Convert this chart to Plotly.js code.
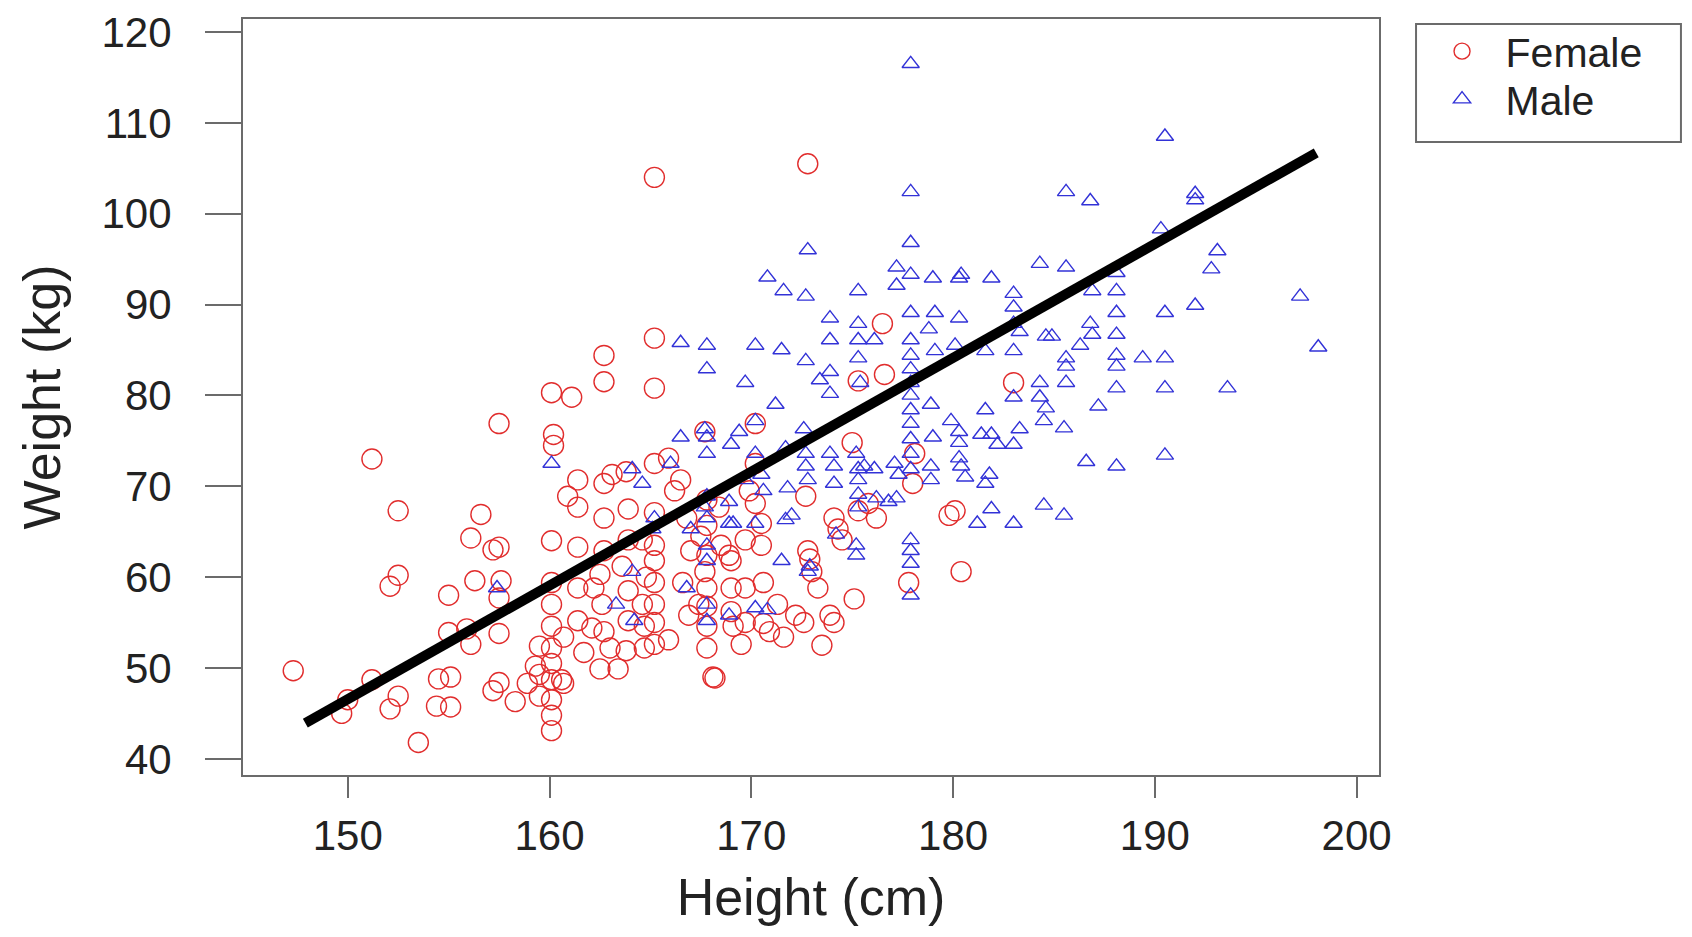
<!DOCTYPE html>
<html>
<head>
<meta charset="utf-8">
<script src="https://cdn.plot.ly/plotly-3.0.1.min.js"></script>
<style>
  html, body { margin: 0; padding: 0; background: #ffffff; }
  #chart { width: 1692px; height: 937px; }
</style>
</head>
<body>
<div id="chart"></div>
<script>
// Female: height (cm) and weight (kg)
const femaleHeight = [
  147.3, 149.7, 150.0, 151.2, 151.2, 152.1, 152.5, 152.5, 152.1, 152.5,
  153.5, 154.5, 154.4, 155.1, 155.1, 155.0, 155.0, 155.9, 156.1, 156.1,
  156.3, 156.6, 157.2, 157.5, 157.5, 157.6, 157.5, 157.5, 157.5, 157.2,
  158.3, 158.9, 159.3, 159.5, 160.1, 160.2, 160.2, 161.1, 160.1, 160.1,
  160.1, 160.1, 160.1, 160.1, 160.1, 160.1, 160.1, 160.1, 159.5, 159.5,
  160.6, 160.7, 160.7, 160.9, 161.4, 161.4, 161.4, 161.4, 161.4, 161.7,
  162.1, 162.2, 162.5, 162.7, 162.7, 162.7, 162.7, 162.7, 162.6, 162.7,
  163.0, 162.5, 163.4, 163.1, 163.8, 163.9, 163.9, 163.6, 163.9, 163.9,
  163.8, 164.6, 164.8, 164.6, 164.7, 164.7, 165.2, 165.2, 165.2, 165.2,
  165.2, 165.2, 165.2, 165.2, 165.2, 165.2, 165.2, 165.9, 165.9, 166.2,
  166.5, 166.6, 166.9, 166.8, 167.0, 167.4, 167.5, 167.7, 167.8, 167.8,
  167.7, 167.8, 167.8, 167.8, 167.8, 167.8, 168.1, 168.2, 168.4, 168.5,
  168.9, 169.0, 169.0, 169.0, 169.1, 169.5, 169.7, 169.7, 169.7, 169.9,
  170.2, 170.2, 170.2, 170.5, 170.5, 170.6, 170.6, 170.9, 171.3, 171.6,
  172.2, 172.6, 172.8, 172.7, 172.8, 172.9, 173.0, 173.3, 173.5, 173.9,
  174.1, 174.1, 174.3, 174.5, 175.0, 175.1, 175.3, 175.3, 175.8, 176.2,
  176.5, 176.6, 178.0, 177.8, 178.1, 179.8, 180.1, 180.4, 183.0
];
const femaleWeight = [
  49.7, 45.0, 46.5, 73.0, 48.7, 59.0, 60.2, 67.3, 45.5, 46.9,
  41.8, 48.8, 45.8, 45.7, 49.0, 58.0, 53.9, 54.3, 52.6, 64.3,
  59.6, 66.9, 63.0, 76.9, 63.3, 59.6, 57.7, 53.8, 48.4, 47.5,
  46.3, 48.3, 50.2, 52.4, 80.3, 75.7, 74.5, 79.8, 64.0, 59.4,
  57.0, 54.6, 52.2, 50.5, 48.7, 46.5, 44.8, 43.1, 49.3, 46.9,
  48.7, 53.4, 48.3, 68.9, 70.7, 67.7, 63.3, 58.8, 55.2, 51.7,
  54.4, 58.8, 60.3, 84.4, 81.5, 70.3, 66.5, 62.9, 57.0, 54.0,
  52.2, 49.9, 49.9, 71.3, 71.6, 67.5, 64.1, 61.2, 58.5, 55.2,
  51.9, 64.1, 60.0, 57.0, 54.6, 52.2, 104.0, 86.3, 80.8, 72.5,
  67.1, 63.5, 61.8, 59.4, 57.0, 55.0, 52.6, 73.1, 53.1, 69.5,
  70.7, 59.4, 55.8, 66.5, 62.9, 57.0, 64.5, 60.6, 54.6, 52.2,
  76.0, 68.5, 65.7, 62.4, 58.8, 56.8, 49.0, 48.9, 67.7, 63.5,
  62.4, 61.8, 58.8, 56.2, 54.6, 52.6, 55.0, 58.8, 64.1, 69.5,
  76.9, 72.5, 68.1, 65.9, 63.5, 59.4, 54.9, 54.0, 57.0, 53.4,
  55.8, 55.0, 105.5, 68.9, 62.9, 62.0, 60.6, 58.8, 52.5, 55.8,
  55.0, 66.5, 65.3, 64.1, 74.8, 57.6, 81.6, 67.3, 68.1, 66.5,
  87.9, 82.3, 70.3, 59.4, 73.6, 66.8, 67.3, 60.6, 81.4
];

// Male: height (cm) and weight (kg)
const maleHeight = [
  177.9, 190.5, 192.0, 192.0, 185.6, 186.8, 177.9, 177.9, 172.8, 190.3,
  193.1, 192.8, 192.0, 190.5, 197.2, 198.1, 193.6, 190.5, 190.5, 190.5,
  189.4, 188.1, 188.1, 188.1, 188.1, 188.1, 188.1, 188.1, 188.1, 186.6,
  186.8, 186.9, 187.2, 186.9, 186.3, 185.6, 185.6, 185.6, 185.6, 185.5,
  185.5, 184.3, 184.6, 184.3, 184.3, 184.6, 184.5, 184.5, 184.9, 183.3,
  183.0, 183.0, 183.0, 183.0, 183.0, 183.3, 183.0, 183.0, 181.9, 181.6,
  181.6, 181.4, 181.9, 182.2, 181.8, 181.6, 181.9, 181.2, 180.3, 180.3,
  180.4, 180.1, 179.9, 180.3, 180.3, 180.3, 180.4, 180.6, 179.0, 179.1,
  178.8, 179.1, 178.9, 179.0, 178.9, 178.9, 177.9, 177.9, 177.9, 177.9,
  177.9, 177.9, 177.9, 177.9, 177.9, 177.9, 177.9, 177.9, 177.9, 177.9,
  177.9, 177.9, 177.2, 177.2, 177.1, 177.3, 176.8, 177.2, 176.1, 176.1,
  176.2, 175.6, 175.3, 175.3, 175.3, 175.3, 175.4, 175.2, 175.3, 175.3,
  175.3, 175.3, 175.2, 175.2, 173.9, 173.9, 173.9, 173.9, 173.9, 174.1,
  174.1, 174.2, 173.4, 172.7, 172.7, 172.6, 172.7, 172.7, 172.8, 172.9,
  172.8, 171.6, 170.8, 171.5, 171.2, 171.7, 171.8, 172.0, 171.7, 171.5,
  170.2, 170.2, 170.2, 170.5, 170.6, 170.2, 170.8, 170.2, 169.7, 169.4,
  169.7, 169.1, 169.0, 168.9, 168.9, 168.9, 167.8, 167.8, 167.7, 167.8,
  167.8, 167.8, 167.7, 167.8, 167.8, 167.8, 167.8, 167.8, 167.0, 166.8,
  166.5, 166.5, 166.0, 165.2, 165.1, 164.6, 164.1, 164.1, 164.2, 163.3,
  160.1, 157.4
];
const maleWeight = [
  116.5, 108.5, 102.2, 101.5, 102.4, 101.4, 102.4, 96.8, 96.0, 98.3,
  95.9, 93.9, 89.9, 89.1, 90.9, 85.3, 80.8, 84.1, 80.8, 73.4,
  84.1, 93.5, 91.5, 89.1, 86.7, 84.4, 83.2, 80.8, 72.2, 72.7,
  87.9, 86.7, 78.8, 91.5, 85.5, 94.1, 84.1, 83.2, 81.4, 76.4,
  66.8, 94.5, 86.5, 81.4, 79.8, 78.6, 77.2, 67.9, 86.5, 87.0,
  91.2, 89.7, 87.9, 84.9, 79.8, 76.3, 74.6, 65.9, 92.9, 84.9,
  78.4, 75.7, 75.7, 74.6, 71.3, 70.3, 67.5, 65.9, 92.9, 88.5,
  93.3, 85.5, 77.2, 76.0, 74.8, 73.1, 72.2, 71.0, 92.9, 89.1,
  87.3, 84.9, 79.0, 75.4, 72.2, 70.7, 93.3, 89.1, 86.1, 84.4,
  82.9, 81.4, 80.0, 78.4, 76.9, 75.2, 73.6, 71.9, 64.1, 62.9,
  61.5, 58.0, 94.1, 92.1, 72.5, 71.3, 68.3, 68.7, 86.1, 71.9,
  68.7, 72.2, 91.5, 87.9, 86.1, 84.1, 81.4, 73.6, 71.9, 70.7,
  69.1, 67.7, 63.5, 62.4, 88.5, 86.1, 82.6, 80.2, 73.6, 72.2,
  70.3, 64.7, 81.7, 90.9, 83.8, 76.3, 73.6, 72.2, 70.7, 61.2,
  60.6, 91.5, 93.0, 85.0, 79.0, 74.2, 69.8, 66.8, 66.3, 61.8,
  85.5, 77.2, 73.6, 71.3, 69.5, 65.9, 56.4, 56.6, 81.4, 76.0,
  70.7, 65.9, 74.6, 68.3, 65.9, 55.8, 85.5, 82.9, 76.3, 75.4,
  73.6, 68.9, 67.7, 66.5, 63.5, 61.8, 57.0, 55.2, 65.3, 58.8,
  85.8, 75.4, 72.5, 66.5, 65.3, 70.3, 71.9, 60.6, 55.2, 57.0,
  72.5, 58.8
];

// Fitted line (weight = intercept + slope * height)
const fitIntercept = -141.4;
const fitSlope = 1.253;
const fitHeightRange = [147.9, 198.0];

const seriesNames = ['Female', 'Male'];
const xTicks = [150, 160, 170, 180, 190, 200];
const yTicks = [40, 50, 60, 70, 80, 90, 100, 110, 120];

const fitWeights = fitHeightRange.map(h => fitIntercept + fitSlope * h);

const FONT = 'Liberation Sans, Arial, Helvetica, sans-serif';
const AXIS_GRAY = '#6b6b6b';

const traces = [
  {
    type: 'scatter', mode: 'markers', name: seriesNames[0], legend: 'legend',
    x: femaleHeight, y: femaleWeight,
    marker: { symbol: 'circle-open', size: 20, color: 'rgb(225,45,45)', line: { width: 1.4, color: 'rgb(225,45,45)' } },
    hoverinfo: 'x+y'
  },
  {
    type: 'scatter', mode: 'markers', name: seriesNames[1], legend: 'legend2',
    x: maleHeight, y: maleWeight,
    marker: { symbol: 'triangle-up-open', size: 15, color: 'rgb(50,50,215)', line: { width: 1.4, color: 'rgb(50,50,215)' } },
    hoverinfo: 'x+y'
  },
  {
    type: 'scatter', mode: 'lines', name: 'fit', showlegend: false,
    x: fitHeightRange, y: fitWeights,
    line: { color: '#000000', width: 10 },
    hoverinfo: 'skip'
  }
];

const legendCommon = {
  xanchor: 'left', yanchor: 'top',
  bgcolor: 'rgba(0,0,0,0)', borderwidth: 0,
  font: { size: 41, color: '#222222', family: FONT },
  itemwidth: 77, itemsizing: 'trace'
};

const layout = {
  width: 1692, height: 937,
  paper_bgcolor: '#ffffff', plot_bgcolor: '#ffffff',
  margin: { l: 243, r: 313, t: 19, b: 162, pad: 0 },
  font: { family: FONT, color: '#222222' },
  showlegend: true,
  xaxis: {
    range: [144.81, 201.11],
    tickmode: 'array', tickvals: xTicks, ticktext: xTicks.map(String),
    showgrid: false, zeroline: false,
    showline: true, mirror: true, linecolor: AXIS_GRAY, linewidth: 2,
    ticks: 'outside', ticklen: 21, tickwidth: 2, tickcolor: AXIS_GRAY,
    tickfont: { size: 42, color: '#222222', family: FONT },
    ticklabelstandoff: 2,
    title: { text: 'Height (cm)', font: { size: 52, color: '#222222', family: FONT }, standoff: 20 },
    automargin: false
  },
  yaxis: {
    range: [38.22, 121.43],
    tickmode: 'array', tickvals: yTicks, ticktext: yTicks.map(String),
    showgrid: false, zeroline: false,
    showline: true, mirror: true, linecolor: AXIS_GRAY, linewidth: 2,
    ticks: 'outside', ticklen: 36, tickwidth: 2, tickcolor: AXIS_GRAY,
    tickfont: { size: 42, color: '#222222', family: FONT },
    ticklabelstandoff: 25,
    title: { text: 'Weight (kg)', font: { size: 52, color: '#222222', family: FONT }, standoff: 24 },
    automargin: false
  },
  legend: Object.assign({ x: 1.0348, y: 1.0013 }, legendCommon),
  legend2: Object.assign({ x: 1.0348, y: 0.9378 }, legendCommon),
  shapes: [
    {
      type: 'rect', xref: 'paper', yref: 'paper',
      x0: 1.0326, x1: 1.2658, y0: 0.8373, y1: 0.9934,
      line: { color: AXIS_GRAY, width: 2 }, fillcolor: 'rgba(0,0,0,0)', layer: 'below'
    }
  ],
  hovermode: 'closest'
};

Plotly.newPlot('chart', traces, layout, { displayModeBar: false, responsive: false });
</script>
</body>
</html>
